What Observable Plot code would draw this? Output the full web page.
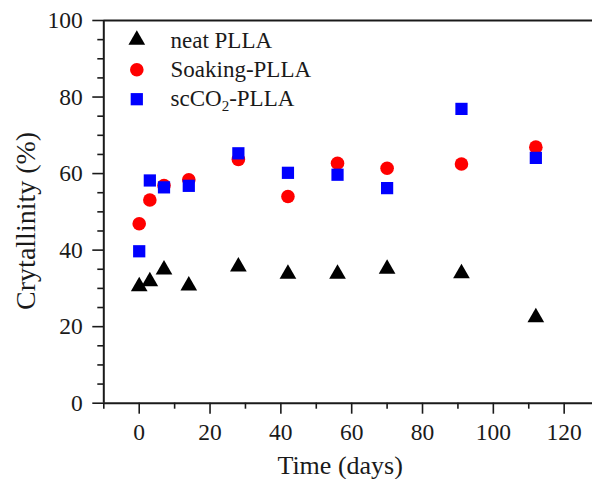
<!DOCTYPE html>
<html>
<head>
<meta charset="utf-8">
<script src="https://cdn.jsdelivr.net/npm/d3@7"></script>
<script src="https://cdn.jsdelivr.net/npm/@observablehq/plot@0.6"></script>
<style>
  html, body { margin: 0; padding: 0; background: #fff; }
  #chart svg { display: block; }
  #chart svg text { font-family: 'Liberation Serif', 'Times New Roman', serif !important; font-variant: normal !important; }
</style>
</head>
<body>
<div id="chart"></div>
<script>
// ---- data ----
const days    = [0, 3, 7, 14, 28, 42, 56, 70, 91, 112];
const neat    = [30.5, 31.8, 34.9, 30.7, 35.7, 33.8, 33.8, 35.1, 33.9, 22.4];
const soaking = [46.9, 53.1, 56.9, 58.4, 63.7, 54.0, 62.7, 61.4, 62.5, 66.9];
const scco2   = [39.7, 58.2, 56.4, 56.8, 65.3, 60.2, 59.7, 56.2, 76.9, 64.1];

const seriesNames = ["neat PLLA", "Soaking-PLLA", "scCO2-PLLA"];
const xMajor = [0, 20, 40, 60, 80, 100, 120];
const xMinor = [-10, 10, 30, 50, 70, 90, 110];
const yMajor = [0, 20, 40, 60, 80, 100];
const yMinor = [5, 10, 15, 25, 30, 35, 45, 50, 55, 65, 70, 75, 85, 90, 95];
const xTitle = "Time (days)";
const yTitle = "Crytallinity (%)";

const toRows = (vals) => days.map((d, i) => ({day: d, value: vals[i]}));
const neatRows = toRows(neat), soakRows = toRows(soaking), scRows = toRows(scco2);

const FONT = "'Liberation Serif', 'Times New Roman', serif";
const INK = "#1a1a1a";

const plot = Plot.plot({
  width: 592,
  height: 479,
  marginLeft: 103.3,
  marginRight: 0,
  marginTop: 20,
  marginBottom: 76.3,
  style: {fontFamily: FONT, fontSize: "23px", color: INK, background: "#fff", overflow: "visible"},
  x: {domain: [-10, 128]},
  y: {domain: [0, 100]},
  marks: [
    // minor ticks
    Plot.axisY({ticks: yMinor, tickSize: 6, text: null, label: null, strokeWidth: 1.6, stroke: INK}),
    Plot.axisX({ticks: xMinor, tickSize: 6, text: null, label: null, strokeWidth: 1.6, stroke: INK}),
    // major ticks + labels
    Plot.axisY({ticks: yMajor, tickSize: 11, tickPadding: 10, label: null, strokeWidth: 1.6, stroke: INK, fill: INK, fontSize: 23.5, fontFamily: FONT}),
    Plot.axisX({ticks: xMajor, tickSize: 11, tickPadding: 9, label: null, strokeWidth: 1.6, stroke: INK, fill: INK, fontSize: 23.5, fontFamily: FONT}),
    // frame lines
    Plot.ruleX([-10], {stroke: INK, strokeWidth: 2}),
    Plot.ruleY([0], {stroke: INK, strokeWidth: 2}),
    Plot.ruleY([100], {stroke: INK, strokeWidth: 2}),
    // axis titles
    Plot.text([xTitle], {text: d => d, frameAnchor: "bottom", textAnchor: "middle", lineAnchor: "bottom", dx: -8, dy: 71, fontSize: 26, fontFamily: FONT, fill: INK}),
    Plot.text([yTitle], {text: d => d, frameAnchor: "left", textAnchor: "middle", lineAnchor: "middle", dx: -78, dy: 9, rotate: -90, fontSize: 28, fontFamily: FONT, fill: INK}),
    // data
    Plot.dot(neatRows, {x: "day", y: "value", symbol: "triangle", r: 6.2, fill: "#000", stroke: "none"}),
    Plot.dot(soakRows, {x: "day", y: "value", symbol: "circle", r: 6.8, fill: "#ff0000", stroke: "none"}),
    Plot.dot(scRows, {x: "day", y: "value", symbol: "square", r: 6.9, fill: "#0000ff", stroke: "none"}),
    // legend
    Plot.dot([seriesNames[0]], {frameAnchor: "top-left", dx: 33, dy: 19.5, symbol: "triangle", r: 6.2, fill: "#000", stroke: "none"}),
    Plot.dot([seriesNames[1]], {frameAnchor: "top-left", dx: 33, dy: 49.2, symbol: "circle", r: 6.8, fill: "#ff0000", stroke: "none"}),
    Plot.dot([seriesNames[2]], {frameAnchor: "top-left", dx: 33, dy: 78.7, symbol: "square", r: 6.9, fill: "#0000ff", stroke: "none"}),
    Plot.text([seriesNames[0]], {text: d => d, frameAnchor: "top-left", dx: 66.7, dy: 20, textAnchor: "start", lineAnchor: "middle", fontSize: 23, fontFamily: FONT, fill: INK}),
    Plot.text([seriesNames[1]], {text: d => d, frameAnchor: "top-left", dx: 66.7, dy: 49, textAnchor: "start", lineAnchor: "middle", fontSize: 23, fontFamily: FONT, fill: INK}),
    Plot.text([seriesNames[2]], {text: d => d, frameAnchor: "top-left", dx: 66.7, dy: 78.5, textAnchor: "start", lineAnchor: "middle", fontSize: 23, fontFamily: FONT, fill: INK})
  ]
});

// subscript 2 in scCO2
d3.select(plot).selectAll("text").filter(function () { return this.textContent === "scCO2-PLLA"; })
  .each(function () {
    const t = d3.select(this);
    t.text(null);
    t.append("tspan").text("scCO");
    t.append("tspan").attr("dy", "5").attr("font-size", "15").text("2");
    t.append("tspan").attr("dy", "-5").text("-PLLA");
  });

document.getElementById("chart").appendChild(plot);
</script>
</body>
</html>
